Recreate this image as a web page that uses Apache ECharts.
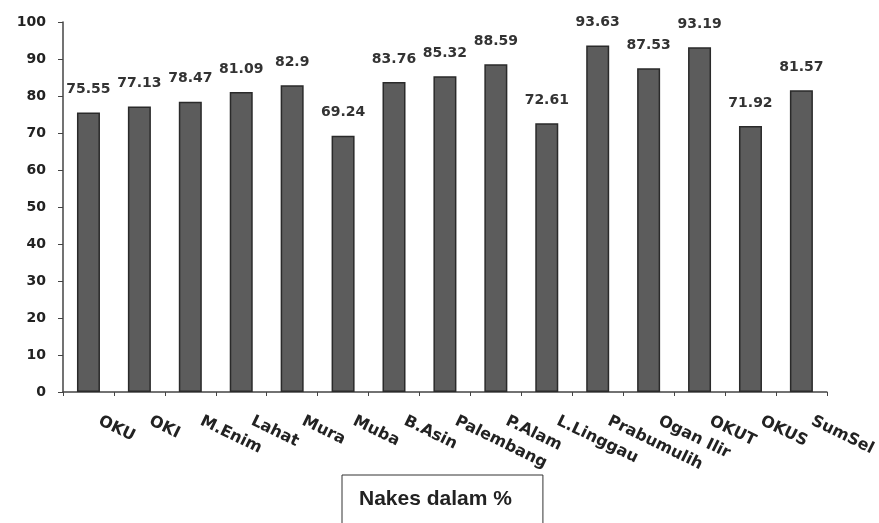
<!DOCTYPE html>
<html>
<head>
<meta charset="utf-8">
<script src="https://cdn.jsdelivr.net/npm/echarts@6/dist/echarts.min.js"></script>
<style>
  html, body { margin: 0; padding: 0; background: #fff; }
  #chart { width: 879px; height: 523px; }
</style>
</head>
<body>
<div id="chart"></div>
<script>
// kabupaten / kota
var categories = ['OKU', 'OKI', 'M.Enim', 'Lahat', 'Mura', 'Muba', 'B.Asin', 'Palembang',
  'P.Alam', 'L.Linggau', 'Prabumulih', 'Ogan Ilir', 'OKUT', 'OKUS', 'SumSel'];
var nakes = [75.55, 77.13, 78.47, 81.09, 82.9, 69.24, 83.76, 85.32,
  88.59, 72.61, 93.63, 87.53, 93.19, 71.92, 81.57];
var seriesName = 'Nakes dalam %';

var chart = echarts.init(document.getElementById('chart'));
chart.setOption({
  animation: false,
  backgroundColor: '#fff',
  grid: { left: 63, right: 52, top: 22, bottom: 131 },
  legend: {
    data: [seriesName],
    top: 475,
    left: 342,
    icon: 'none',
    itemWidth: 0,
    itemGap: 0,
    padding: [14, 31, 30, 12],
    borderColor: '#333',
    borderWidth: 1,
    textStyle: { fontFamily: 'Liberation Sans', fontSize: 21, fontWeight: 'bold', color: '#222' }
  },
  xAxis: {
    type: 'category',
    data: categories,
    axisLine: { lineStyle: { color: '#444', width: 1.5 } },
    axisTick: { show: true, length: 4, lineStyle: { color: '#444' } },
    axisLabel: {
      interval: 0,
      rotate: -26,
      margin: 23,
      padding: [0, 0, 0, 12],
      color: '#222',
      fontFamily: 'DejaVu Sans',
      fontSize: 16,
      fontWeight: 'bold'
    }
  },
  yAxis: {
    type: 'value',
    min: 0,
    max: 100,
    interval: 10,
    splitLine: { show: false },
    axisLine: { show: true, lineStyle: { color: '#444', width: 1.5 } },
    axisTick: { show: true, length: 5, lineStyle: { color: '#444' } },
    axisLabel: {
      margin: 17,
      color: '#222',
      fontFamily: 'DejaVu Sans',
      fontSize: 14,
      fontWeight: 'bold'
    }
  },
  series: [{
    name: seriesName,
    type: 'bar',
    data: nakes,
    barWidth: 23,
    itemStyle: { color: '#5c5c5c', borderColor: '#2a2a2a', borderWidth: 1.5 },
    label: {
      show: true,
      position: 'top',
      distance: 16,
      color: '#333',
      fontFamily: 'DejaVu Sans',
      fontSize: 14,
      fontWeight: 'bold'
    }
  }]
});
</script>
</body>
</html>
